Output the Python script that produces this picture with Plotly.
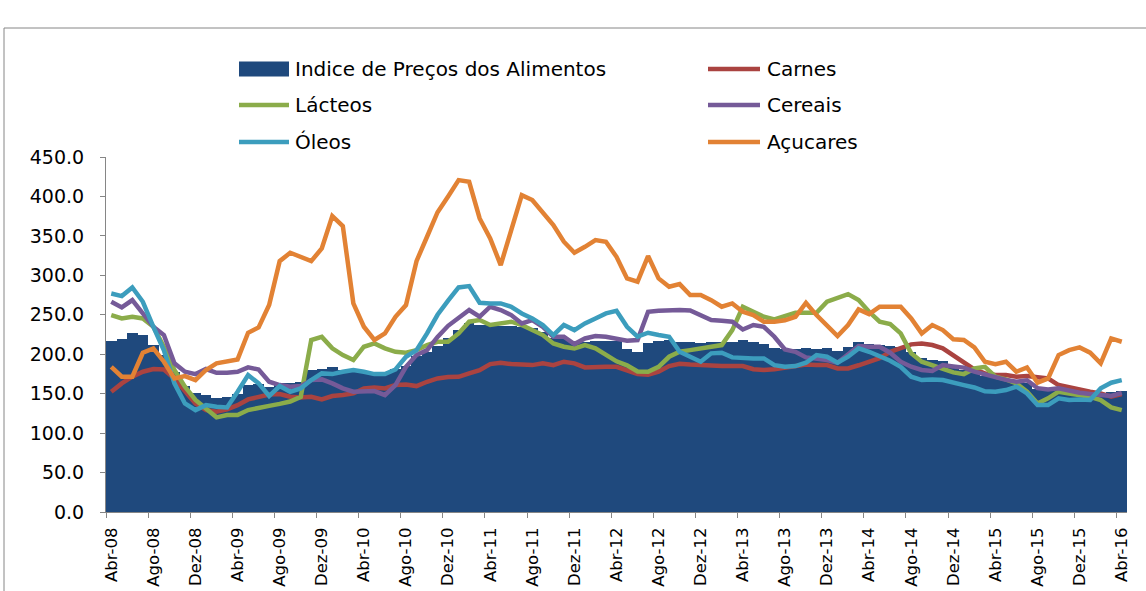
import plotly.graph_objects as go

# ---------------- data (Abr-08 .. Abr-16, monthly) ----------------
month_names = ["Abr", "Mai", "Jun", "Jul", "Ago", "Set", "Out", "Nov", "Dez", "Jan", "Fev", "Mar"]

indice = [217, 219.5, 227, 224, 211.5, 199, 178, 160, 151, 148, 144, 146, 150, 161.5, 162, 158,
          163, 164, 165, 179.5, 181.5, 183.5, 180.5, 178, 177.5, 177, 176, 181, 185, 197.5, 203, 211,
          221, 231, 240, 237.5, 236.5, 236, 236, 234, 233.5, 228, 221, 220, 216.5, 216, 217, 217,
          217, 206, 203, 214.5, 216.5, 217.5, 216, 216, 214.5, 216, 216, 216, 218, 215, 213, 208,
          206, 206, 208, 206, 207.5, 204, 209, 215, 213.5, 211.5, 210, 209, 203, 195, 193, 191,
          186, 180, 176, 173, 171, 168, 165, 164, 156, 156, 158, 154, 151, 149, 150, 152, 153]

carnes = [152.5, 163, 171.5, 177.8, 181.2, 180.7, 169.3, 152.5, 137.6, 129.2, 127.1, 130, 135.5, 142.7, 146.1, 149,
          149.5, 146.1, 145.2, 146.1, 142.7, 147, 148.2, 150.3, 156.7, 157.9, 156.7, 160.9, 161.7, 159.6, 165.1, 169.3,
          171, 171.4, 175.7, 179.9, 187.5, 189.2, 187.5, 186.2, 186.2, 188.4, 186.2, 190.5, 188.4, 183.3, 184.1, 184.1,
          184, 180, 175, 174, 178, 185, 188, 187, 186, 185, 185, 185, 185, 181, 180, 181,
          183, 184.5, 187, 186.2, 186.2, 182, 182, 186, 190, 195, 203, 207.4, 212.5, 213.7, 211.6, 207.4,
          199, 189.2, 180.8, 175.7, 173.6, 173.6, 171.5, 172.3, 171.5, 169.3, 160.9, 157.9, 154.6, 152.5, 150.3, 146.1, 149.5]

lacteos = [249.6, 245.4, 247.5, 245.4, 234.8, 209.5, 180, 158.9, 142, 131.3, 120, 122.9, 122.9, 129.2, 131.3, 134.5,
           137, 140, 146, 218, 222, 207.4, 198.9, 192.6, 209.5, 213.7, 207.4, 203.1, 201.9, 205.2, 211.6, 215.8,
           215.8, 226.4, 241.2, 243.3, 237, 239, 241.2, 237, 230.6, 224.3, 213.7, 209.5, 207.4, 211.6, 207.4, 198.9,
           191, 186, 178.2, 177.8, 184.1, 196.8, 203.1, 205.2, 207.4, 209.5, 211.6, 230.6, 260.2, 253.8, 247.5, 244.1,
           248.5, 252.6, 252.6, 252.6, 266.5, 270.7, 276.2, 268.6, 253.8, 241.2, 238.2, 226.4, 201.1, 190.5, 186.2, 182,
           177, 174.8, 182, 184.1, 171.5, 168.1, 163, 152.5, 137.6, 144, 152.5, 150.3, 148.2, 146.1, 141.9, 132.6, 129.2]

cereais = [266.5, 259.3, 268.6, 251.7, 234.8, 224.3, 188.4, 177.8, 174.8, 181.2, 176.5, 176.5, 177.8, 183.3, 180.7, 165.1,
           160.9, 158.8, 159.6, 167.2, 168.1, 163, 156.7, 152.5, 152.5, 153.3, 148.2, 160.9, 184.1, 198.9, 205.2, 222,
           236, 245.4, 256, 247.5, 260.2, 256, 249.6, 239, 243.2, 234.8, 222.2, 222.2, 212.9, 220, 223, 222.2,
           220, 217, 218, 253.8, 255, 256, 256, 255.5, 249.6, 243.3, 242.4, 241.2, 231.4, 237, 234.8, 222.2,
           206, 203.1, 196, 194.7, 192.6, 189.2, 198.9, 210.3, 209.5, 209.5, 201.9, 190.5, 184.1, 180, 178.7, 186.2,
           184.5, 183, 178, 174, 171.5, 167.5, 165, 167, 157, 155.4, 156.7, 153.7, 151.2, 149.5, 148.2, 147, 151]

oleos = [277, 273.7, 284.7, 266.5, 234.8, 205, 163, 137.6, 129.2, 135.5, 133.4, 132.6, 152.5, 173.6, 163, 147,
         159.6, 152.4, 156.7, 167.2, 175.7, 174.8, 177.8, 180, 177.8, 174.8, 174.8, 180.7, 196.8, 205.2, 226.4, 250,
         268, 284.7, 286.4, 265.2, 264.4, 264.4, 260.2, 251.7, 245.4, 237, 224.3, 237, 230.6, 239, 245.4, 251.7,
         255, 234.8, 222.2, 227.2, 224.3, 222.2, 203.1, 196.8, 190.5, 201.1, 201.9, 196, 194.7, 194.7, 194.7, 186.2,
         184, 185, 189.2, 198.9, 196.8, 189.2, 196.8, 207.4, 203.1, 197.6, 191.7, 184.1, 171.5, 167.2, 168.1, 167.2,
         163.5, 160.9, 157.9, 153, 152.5, 154.6, 158.8, 150.3, 135.5, 135.5, 144, 141.9, 142.7, 141.9, 156.7, 163.9, 167.2]

acucares = [184.1, 171.5, 171.5, 201.8, 207.4, 190.5, 169.3, 172.3, 167.2, 180, 188.4, 190.5, 193.4, 227.2, 234, 262.3,
            318, 328.6, 324, 318, 334.1, 375, 362.5, 264.4, 234.8, 218, 226.4, 247.5, 262.3, 318, 348.9, 380,
            400, 420.7, 418.6, 372.1, 346.8, 313, 357.4, 401.7, 395.4, 380.6, 363.7, 342.6, 328.6, 336.2, 344.7, 342.6,
            323.5, 296.1, 291.9, 324.4, 296.1, 285.5, 288.9, 275, 275, 268.6, 260.2, 264.4, 253.8, 249.6, 241.2, 241.2,
            243, 247.5, 265.2, 249.6, 237, 223, 237, 256.8, 250.9, 260.2, 260.2, 260.2, 245.4, 226.4, 237, 230.6,
            219, 218, 208.6, 190.5, 187.5, 190.5, 177.8, 183.3, 163.9, 169.3, 198.9, 205.2, 208.6, 201.9, 188.4, 220, 215.8]

series_names = ["Carnes", "Lácteos", "Cereais", "Óleos", "Açucares"]
series_values = [carnes, lacteos, cereais, oleos, acucares]
bar_name = "Indice de Preços dos Alimentos"

# month labels
n = len(indice)
months = []
for i in range(n):
    m = month_names[i % 12]
    yr = 8 + (i + 3) // 12
    months.append(f"{m}-{yr:02d}")
tick_idx = list(range(0, n, 4))
tick_labels = [months[i] for i in tick_idx]

# ---------------- styling ----------------
W, H = 1146, 591
L, R, T, B = 106, 19, 157, 79
bar_color = "#1F497D"
line_colors = ["#AA4340", "#8BAC4A", "#755A98", "#3C9DBD", "#E28234"]
axis_gray = "#868686"
FONT = "DejaVu Sans"

xs = [i + 0.5 for i in range(n)]

fig = go.Figure()
fig.add_trace(go.Bar(x=xs, y=indice, width=1.0, name=bar_name,
                     marker=dict(color=bar_color, line=dict(width=0)), showlegend=False))
for nm, vals, col in zip(series_names, series_values, line_colors):
    fig.add_trace(go.Scatter(x=xs, y=vals, mode="lines", name=nm,
                             line=dict(color=col, width=4.5), showlegend=False))

pw = W - L - R
ph = H - T - B
def px(x):
    return (x - L) / pw
def py(y):
    return (H - B - y) / ph

shapes = []
annotations = []
# outer frame
shapes.append(dict(type="rect", xref="paper", yref="paper",
                   x0=px(4), x1=px(1160), y0=py(605), y1=py(28),
                   line=dict(color=axis_gray, width=1), fillcolor="rgba(0,0,0,0)", layer="below"))

# custom legend
legend_items = [(bar_name, bar_color, "bar")] + [(nm, c, "line") for nm, c in zip(series_names, line_colors)]
col_sym_x = [(239, 289), (708, 760)]
col_txt_x = [293, 765]
row_y = [69, 105, 142]
for k, (nm, col, kind) in enumerate(legend_items):
    r, c = k // 2, k % 2
    yc = row_y[r]
    x0, x1 = col_sym_x[c]
    if kind == "bar":
        shapes.append(dict(type="rect", xref="paper", yref="paper",
                           x0=px(x0), x1=px(x1), y0=py(yc + 7.5), y1=py(yc - 7.5),
                           fillcolor=col, line=dict(width=0)))
    else:
        shapes.append(dict(type="line", xref="paper", yref="paper",
                           x0=px(x0), x1=px(x1), y0=py(yc), y1=py(yc),
                           line=dict(color=col, width=4.5)))
    annotations.append(dict(xref="paper", yref="paper", x=px(col_txt_x[c]), y=py(yc),
                            text=nm, showarrow=False, xanchor="left", yanchor="middle",
                            font=dict(family=FONT, size=20, color="#000000")))

fig.update_layout(
    width=W, height=H,
    margin=dict(l=L, r=R, t=T, b=B, pad=0, autoexpand=False),
    paper_bgcolor="white", plot_bgcolor="white",
    bargap=0, barmode="overlay",
    showlegend=False,
    shapes=shapes, annotations=annotations,
    xaxis=dict(range=[0, n], tickmode="array", tickvals=[i + 0.5 for i in tick_idx],
               ticktext=tick_labels, tickangle=-90, ticks="", showline=True,
               linecolor=axis_gray, linewidth=1, showgrid=False, zeroline=False,
               automargin=False,
               tickfont=dict(family=FONT, size=16.5, color="#000000"),
               ticklabelstandoff=8,
               minor=dict(tickmode="array", tickvals=tick_idx,
                          ticks="outside", ticklen=5, tickcolor=axis_gray, tickwidth=1, showgrid=False)),
    yaxis=dict(range=[0, 450], tickmode="array", tickvals=list(range(0, 451, 50)),
               tickformat=".1f", ticks="outside", ticklen=5, tickcolor=axis_gray,
               showline=True, linecolor=axis_gray, linewidth=1, showgrid=False, zeroline=False,
               automargin=False,
               tickfont=dict(family=FONT, size=19, color="#000000"),
               ticklabelstandoff=12),
)

fig.write_html("out.html", config={"displayModeBar": False},
               post_script="document.body.style.margin='0px';")
